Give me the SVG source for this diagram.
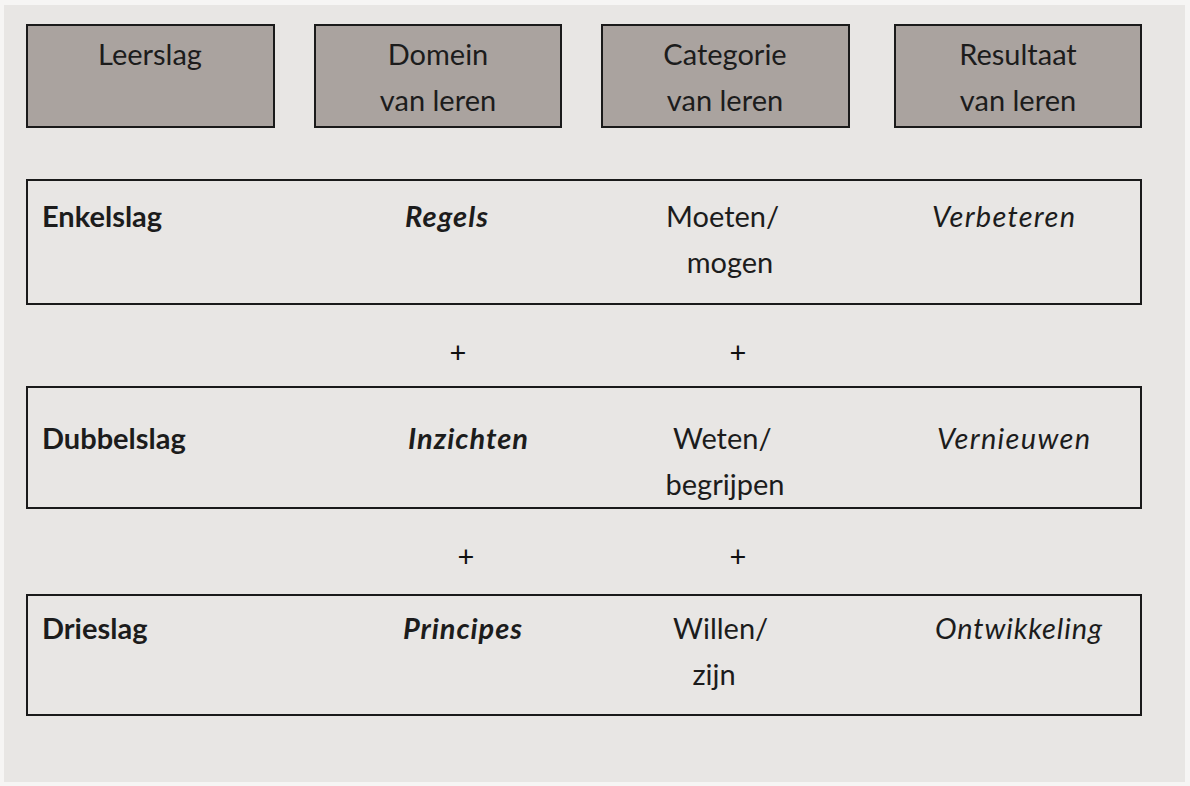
<svg xmlns="http://www.w3.org/2000/svg" width="1190" height="786" viewBox="0 0 1190 786">
<style>
text{font-family:Lato,"Open Sans","Liberation Sans",sans-serif;font-size:29px;fill:#1c1c1c}
.hd{fill:#aaa39f;stroke:#1a1a1a;stroke-width:2}
.row{fill:none;stroke:#1a1a1a;stroke-width:2}
.b{font-weight:bold}
.bi{font-weight:bold;font-style:italic}
.i{font-style:italic}
.c{text-anchor:middle}
.p{font-size:29px;fill:#111}
</style>
<rect width="1190" height="786" fill="#f6f5f4"/>
<rect x="4" y="5" width="1181" height="777" fill="#e8e6e4"/>
<g id="h-leerslag"><rect class="hd" x="27" y="25" width="247" height="102"/><text class="c" x="150" y="65">Leerslag</text></g>
<g id="h-domein"><rect class="hd" x="315" y="25" width="246" height="102"/><text class="c" x="438" y="65">Domein</text><text class="c" x="438" y="111">van leren</text></g>
<g id="h-categorie"><rect class="hd" x="602" y="25" width="247" height="102"/><text class="c" x="725" y="65">Categorie</text><text class="c" x="725" y="111">van leren</text></g>
<g id="h-resultaat"><rect class="hd" x="895" y="25" width="246" height="102"/><text class="c" x="1018" y="65">Resultaat</text><text class="c" x="1018" y="111">van leren</text></g>
<g id="r-enkel"><rect class="row" x="27" y="180" width="1114" height="124"/>
<text class="b" x="42" y="227">Enkelslag</text><text class="bi" x="405" y="227" textLength="83">Regels</text>
<text x="666" y="227">Moeten/</text><text class="c" x="730" y="273">mogen</text>
<text class="i" x="932" y="227" textLength="143">Verbeteren</text></g>
<g id="r-dubbel"><rect class="row" x="27" y="387" width="1114" height="121"/>
<text class="b" x="42" y="449">Dubbelslag</text><text class="bi" x="408" y="449" textLength="120">Inzichten</text>
<text x="673" y="449">Weten/</text><text class="c" x="725" y="495">begrijpen</text>
<text class="i" x="937" y="449" textLength="153">Vernieuwen</text></g>
<g id="r-drie"><rect class="row" x="27" y="595" width="1114" height="120"/>
<text class="b" x="42" y="639">Drieslag</text><text class="bi" x="403" y="639" textLength="119">Principes</text>
<text x="673" y="639">Willen/</text><text class="c" x="714" y="685">zijn</text>
<text class="i" x="935" y="639" textLength="167">Ontwikkeling</text></g>
<g id="connectors">
<text class="c p" x="458" y="363">+</text><text class="c p" x="738" y="363">+</text>
<text class="c p" x="466" y="567">+</text><text class="c p" x="738" y="567">+</text>
</g>
</svg>
